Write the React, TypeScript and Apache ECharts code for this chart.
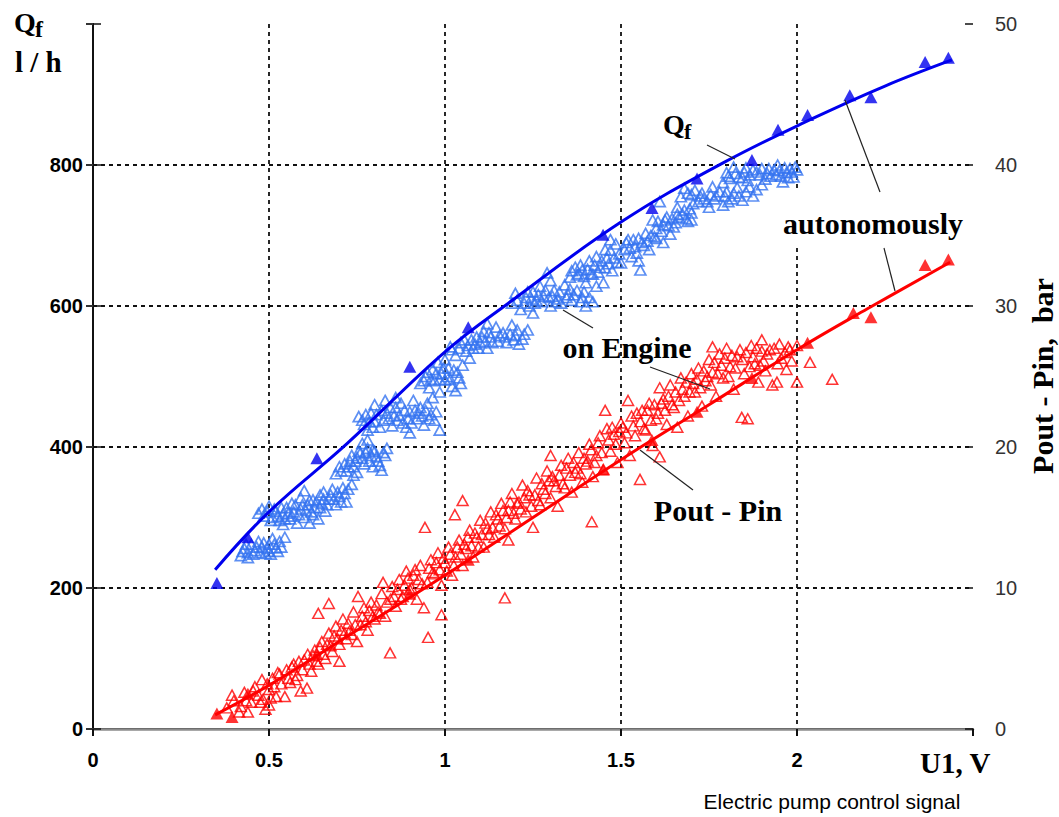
import { useEffect, useRef } from 'react';
import * as echarts from 'echarts';

// ---------- data (x: U1 in V) ----------
// Qf measured on engine (l/h)
const engineQf: [number, number][] = [
  [0.42,246],[0.43,256],[0.44,250],[0.45,262],[0.46,253],[0.47,266],[0.48,258],[0.49,249],[0.50,262],[0.51,270],[0.52,257],[0.53,266],[0.545,272],[0.44,243],[0.50,252],
  [0.425,252],[0.435,262],[0.455,248],[0.465,258],[0.475,250],[0.485,264],[0.495,256],[0.505,248],[0.515,262],[0.525,252],[0.535,258],
  [0.47,306],[0.48,312],[0.50,316],[0.51,300],[0.52,309],[0.53,296],[0.54,305],[0.55,314],[0.56,298],[0.565,320],[0.57,308],[0.58,292],[0.59,312],[0.59,328],[0.60,300],[0.61,318],[0.615,292],[0.62,308],[0.625,325],[0.63,314],[0.64,298],[0.645,332],[0.65,320],[0.655,336],[0.66,309],[0.67,326],[0.68,340],[0.69,318],[0.70,330],[0.71,342],[0.72,322],[0.735,347],[0.60,338],[0.54,290],
  [0.485,302],[0.495,308],[0.505,296],[0.515,312],[0.525,302],[0.535,314],[0.545,298],[0.555,306],[0.565,302],[0.575,318],[0.585,304],[0.595,318],[0.605,310],[0.615,324],[0.625,304],[0.635,322],[0.645,314],[0.655,326],[0.665,318],[0.675,332],[0.685,326],[0.695,336],[0.705,322],[0.715,334],[0.725,340],
  [0.69,362],[0.70,372],[0.72,366],[0.73,380],[0.74,372],[0.75,385],[0.76,392],[0.765,405],[0.77,376],[0.78,398],[0.79,388],[0.795,372],[0.80,394],[0.81,380],[0.82,367],[0.83,388],[0.835,398],[0.75,364],[0.78,410],
  [0.705,366],[0.715,376],[0.725,372],[0.735,388],[0.745,380],[0.755,394],[0.765,384],[0.775,392],[0.785,380],[0.795,396],[0.805,386],[0.815,374],[0.825,392],[0.74,360],
  [0.755,443],[0.77,432],[0.78,424],[0.79,448],[0.80,436],[0.815,428],[0.82,452],[0.83,466],[0.84,440],[0.85,430],[0.86,456],[0.87,445],[0.875,462],[0.88,434],[0.89,428],[0.90,450],[0.91,466],[0.92,440],[0.93,456],[0.94,431],[0.95,462],[0.96,446],[0.965,470],[0.97,438],[0.985,424],[0.80,460],[0.86,470],[0.90,420],
  [0.765,438],[0.775,446],[0.785,436],[0.795,428],[0.805,446],[0.825,438],[0.835,448],[0.845,456],[0.855,444],[0.865,438],[0.885,452],[0.895,440],[0.905,434],[0.915,452],[0.925,448],[0.935,444],[0.945,452],[0.955,440],[0.975,450],
  [0.93,490],[0.945,500],[0.955,484],[0.965,510],[0.97,494],[0.98,520],[0.99,504],[1.0,495],[1.0,524],[1.01,512],[1.02,486],[1.025,509],[1.03,480],[1.04,498],[1.05,516],[0.985,478],
  [0.94,494],[0.95,506],[0.96,496],[0.975,504],[0.985,496],[0.995,512],[1.005,500],[1.015,496],[1.035,506],[1.045,490],
  [1.015,542],[1.03,530],[1.045,548],[1.06,536],[1.08,540],[1.09,556],[1.10,548],[1.11,564],[1.12,540],[1.13,556],[1.145,570],[1.15,550],[1.165,562],[1.175,548],[1.19,573],[1.20,558],[1.21,546],[1.22,553],[1.235,566],[1.07,526],[1.12,575],
  [1.02,538],[1.04,540],[1.055,552],[1.065,544],[1.075,552],[1.085,546],[1.095,540],[1.105,556],[1.115,550],[1.125,562],[1.135,548],[1.155,558],[1.17,556],[1.185,560],[1.195,552],[1.205,566],[1.225,560],
  [1.19,604],[1.20,618],[1.215,595],[1.23,612],[1.24,600],[1.25,620],[1.26,608],[1.27,628],[1.28,614],[1.29,647],[1.30,600],[1.31,622],[1.32,610],[1.33,604],[1.34,630],[1.35,616],[1.36,608],[1.375,622],[1.39,612],[1.40,600],[1.42,606],[1.30,636],[1.25,590],
  [1.205,608],[1.225,604],[1.235,620],[1.245,610],[1.255,604],[1.265,616],[1.275,606],[1.285,622],[1.295,612],[1.305,614],[1.315,606],[1.325,620],[1.345,612],[1.355,624],[1.365,616],[1.385,606],[1.395,620],[1.41,612],
  [1.355,641],[1.37,655],[1.38,646],[1.39,651],[1.40,633],[1.41,664],[1.42,645],[1.43,670],[1.44,655],[1.45,633],[1.46,668],[1.47,679],[1.475,650],[1.485,688],[1.49,662],[1.50,661],[1.47,694],[1.43,628],
  [1.36,650],[1.375,644],[1.385,658],[1.395,642],[1.405,652],[1.415,646],[1.425,658],[1.435,648],[1.445,664],[1.455,654],[1.465,660],[1.48,668],[1.495,674],[1.455,680],
  [1.51,680],[1.52,694],[1.53,670],[1.545,675],[1.555,651],[1.56,690],[1.57,703],[1.58,680],[1.59,722],[1.595,698],[1.60,710],[1.61,748],[1.62,715],[1.63,726],[1.64,702],[1.65,712],[1.66,730],[1.67,755],[1.68,736],[1.69,720],[1.70,722],[1.705,745],[1.55,664],[1.62,690],[1.66,740],
  [1.515,690],[1.525,682],[1.535,694],[1.54,684],[1.55,696],[1.565,686],[1.575,692],[1.585,700],[1.6,696],[1.605,720],[1.615,706],[1.625,722],[1.635,714],[1.645,724],[1.655,718],[1.665,726],[1.675,730],[1.685,724],[1.695,738],[1.7,732],
  [1.68,767],[1.70,758],[1.72,748],[1.73,760],[1.745,748],[1.76,769],[1.77,756],[1.79,743],[1.80,762],[1.815,752],[1.83,768],[1.845,750],[1.865,769],[1.885,765],[1.75,740],[1.79,775],
  [1.69,760],[1.71,764],[1.725,756],[1.735,752],[1.755,758],[1.765,752],[1.78,762],[1.795,756],[1.805,748],[1.82,760],[1.835,756],[1.855,762],[1.875,756],
  [1.80,789],[1.81,781],[1.82,797],[1.835,783],[1.85,790],[1.86,778],[1.875,793],[1.895,786],[1.91,780],[1.92,795],[1.935,793],[1.945,800],[1.955,784],[1.97,789],[1.98,795],[2.0,793],[1.99,783],[1.90,772],[1.96,776],
  [1.805,784],[1.825,788],[1.845,782],[1.855,796],[1.865,786],[1.885,790],[1.9,795],[1.915,788],[1.925,784],[1.94,786],[1.95,792],[1.965,796],[1.975,782],[1.985,790],[1.995,797],
];

// Pout - Pin measured on engine (bar)
const engineDp: [number, number][] = [
  [0.38,1.5],[0.40,2.0],[0.42,1.6],[0.43,2.6],[0.45,1.9],[0.46,3.0],[0.47,2.4],[0.48,3.5],[0.483,2.1],[0.49,1.4],[0.50,2.8],[0.51,3.6],[0.52,2.3],[0.53,3.9],[0.545,2.3],[0.55,4.2],[0.56,3.3],[0.57,4.6],[0.58,3.8],[0.59,2.7],[0.60,4.9],[0.608,2.9],[0.61,5.3],[0.62,4.1],[0.44,1.2],[0.50,1.7],
  [0.63,5.6],[0.64,8.2],[0.64,4.6],[0.65,6.2],[0.66,5.0],[0.67,6.8],[0.68,5.5],[0.69,7.3],[0.70,6.0],[0.71,7.8],[0.72,6.4],[0.73,7.0],[0.74,8.3],[0.75,6.2],[0.753,9.4],[0.76,7.4],[0.77,8.6],[0.78,7.0],[0.79,9.0],[0.80,7.8],[0.81,8.3],[0.82,9.6],[0.824,10.4],[0.83,8.0],[0.844,5.4],[0.845,9.2],[0.85,10.1],[0.70,4.8],[0.67,8.9],
  [0.86,8.7],[0.87,10.6],[0.88,9.4],[0.89,11.2],[0.90,9.9],[0.91,10.9],[0.92,9.2],[0.93,11.6],[0.943,14.3],[0.95,10.4],[0.952,6.5],[0.96,12.0],[0.97,11.0],[0.98,12.5],[0.99,8.1],[0.99,10.2],[1.0,11.8],[1.01,12.9],[1.02,10.9],[1.028,15.2],[1.03,12.2],[1.04,13.4],[1.05,16.2],[1.05,11.6],[1.06,12.8],[1.07,14.1],[1.08,12.2],[1.09,13.6],[1.10,14.8],[0.94,8.6],
  [1.11,12.9],[1.12,14.2],[1.13,15.4],[1.14,13.6],[1.15,14.9],[1.16,16.0],[1.17,9.3],[1.17,14.2],[1.18,15.5],[1.19,16.7],[1.20,14.9],[1.21,16.1],[1.22,17.3],[1.23,15.4],[1.24,16.6],[1.25,14.3],[1.26,17.8],[1.27,15.9],[1.28,17.0],[1.29,18.3],[1.30,16.4],[1.31,17.6],[1.32,15.8],[1.33,18.7],[1.34,17.1],[1.35,19.2],[1.36,16.8],[1.37,18.2],[1.38,19.6],[1.39,17.5],[1.40,18.8],[1.417,14.7],[1.18,13.4],[1.30,19.4],
  [1.41,20.2],[1.42,17.9],[1.43,19.4],[1.44,20.8],[1.45,18.4],[1.46,21.3],[1.47,19.7],[1.48,20.9],[1.49,18.9],[1.50,21.7],[1.51,20.3],[1.52,23.3],[1.525,19.4],[1.53,22.2],[1.54,20.8],[1.554,17.7],[1.56,22.6],[1.57,21.2],[1.58,23.1],[1.59,20.1],[1.60,22.0],[1.61,24.2],[1.61,19.3],[1.62,23.4],[1.63,21.6],[1.64,24.4],[1.65,22.8],[1.66,21.4],[1.67,24.9],[1.68,23.6],[1.69,22.2],[1.70,25.2],[1.455,22.6],
  [1.71,23.9],[1.72,25.6],[1.73,22.9],[1.74,24.7],[1.75,26.2],[1.76,25.3],[1.77,23.6],[1.78,26.6],[1.79,24.9],[1.80,27.0],[1.81,25.7],[1.82,24.1],[1.83,26.4],[1.838,26.9],[1.843,22.1],[1.85,25.2],[1.86,22.0],[1.87,27.2],[1.88,25.9],[1.89,24.6],[1.90,26.8],[1.91,25.4],[1.923,26.9],[1.93,24.4],[1.943,24.6],[1.95,27.3],[1.966,26.7],[1.97,25.5],[1.98,26.9],[2.0,24.6],[2.0,27.2],[2.037,26.0],[2.10,24.8],[1.76,27.1],[1.90,27.6],
  [0.395,2.4],[0.415,1.2],[0.435,2.0],[0.455,2.7],[0.475,1.9],[0.495,3.2],[0.505,2.2],[0.515,3.0],[0.525,4.0],[0.535,3.2],[0.555,3.6],[0.565,4.4],[0.575,3.5],[0.585,4.8],[0.595,4.2],[0.615,4.6],[0.625,5.2],[0.635,4.8],[0.645,5.8],[0.655,5.3],[0.665,6.0],[0.675,5.9],[0.685,6.6],[0.695,6.4],[0.705,7.0],[0.715,6.8],[0.725,7.5],[0.735,6.7],[0.745,7.4],[0.765,8.0],[0.775,7.6],[0.785,8.4],[0.795,8.0],[0.805,8.8],[0.815,8.2],[0.835,9.0],[0.855,9.4],[0.865,9.9],[0.875,9.2],[0.885,10.2],[0.895,10.7],[0.905,10.0],[0.915,11.3],[0.925,10.6],[0.935,10.3],[0.955,11.4],[0.965,11.1],[0.975,11.8],[0.985,11.3],[0.995,12.1],
  [1.005,11.2],[1.015,12.4],[1.025,11.6],[1.035,12.9],[1.045,12.4],[1.055,13.1],[1.065,13.6],[1.075,13.0],[1.085,13.9],[1.095,12.9],[1.105,13.8],[1.115,14.6],[1.125,13.8],[1.135,14.3],[1.145,15.2],[1.155,14.4],[1.165,15.5],[1.175,15.0],[1.185,16.1],[1.195,15.3],[1.205,16.0],[1.215,15.6],[1.225,16.4],[1.235,16.9],[1.245,15.8],[1.255,16.6],[1.265,16.2],[1.275,17.4],[1.285,16.7],[1.295,17.6],[1.305,17.9],[1.315,17.2],[1.325,18.0],[1.335,17.4],[1.345,18.5],[1.355,18.0],[1.365,18.9],[1.375,18.5],[1.385,18.1],[1.395,19.2],[1.405,19.0],[1.415,19.8],[1.425,18.9],[1.435,20.3],[1.445,19.6],[1.465,20.5],[1.475,21.4],[1.485,20.2],[1.495,21.1],
  [1.505,21.4],[1.515,21.0],[1.535,21.5],[1.545,22.4],[1.555,21.8],[1.565,21.3],[1.575,22.6],[1.585,21.9],[1.595,23.0],[1.605,22.4],[1.615,23.1],[1.625,22.6],[1.635,23.6],[1.645,23.0],[1.655,23.9],[1.665,23.3],[1.675,24.1],[1.685,24.6],[1.695,23.9],[1.705,24.5],[1.715,24.8],[1.725,24.2],[1.735,25.4],[1.745,25.0],[1.755,24.4],[1.765,26.0],[1.775,25.2],[1.785,25.8],[1.795,26.3],[1.805,25.0],[1.815,26.5],[1.825,25.6],[1.845,26.2],[1.855,26.7],[1.865,25.7],[1.875,26.4],[1.885,27.0],[1.895,25.8],[1.905,26.1],[1.915,26.6],[1.935,27.0],[1.945,25.9],[1.955,26.3],[1.975,27.1],[1.985,26.1],
];

// measured autonomously (filled triangles)
const autoQf: [number, number][] = [
  [0.352,207],[0.44,272],[0.636,384],[0.90,514],[1.066,570],[1.449,701],[1.588,739],[1.716,781],[1.872,807],[1.946,850],[2.03,871],[2.15,899],[2.21,896],[2.364,946],[2.43,952],
];
const autoDp: [number, number][] = [
  [0.352,1.1],[0.395,0.85],[0.44,2.5],[0.636,5.3],[0.90,9.6],[1.066,12.0],[1.449,18.4],[1.588,20.5],[1.716,22.5],[1.872,24.9],[2.03,27.4],[2.16,29.5],[2.21,29.2],[2.364,32.9],[2.43,33.3],
];

// fitted curves
const fitQf: [number, number][] = [
  [0.347,226],[0.5,308],[0.72,404],[1.0,535],[1.18,604],[1.5,719],[1.79,803],[2.045,866],[2.25,912],[2.44,949],
];
const fitDp: [number, number][] = [
  [0.347,1.0],[0.5,3.1],[0.75,7.0],[1.0,10.9],[1.25,15.0],[1.5,19.1],[1.75,23.0],[2.0,26.9],[2.2,29.8],[2.435,33.1],
];

const X_MIN = 0, X_MAX = 2.5, X_STEP = 0.5;
const QF_MIN = 0, QF_MAX = 1000, QF_STEP = 200;
const DP_MIN = 0, DP_MAX = 50, DP_STEP = 10;

const SANS = '"Liberation Sans", Arial, sans-serif';
const SERIF = '"Liberation Serif", "Times New Roman", serif';

const BLUE = '#0000ee';
const LIGHT_BLUE = '#3473f0';
const RED = '#ff0000';

function txt(text: string, x: number, y: number, font: string, align = 'left', extra: any = {}) {
  return {
    type: 'text', x, y, z: 110, ...extra,
    style: { text, font, fill: '#000', align, textAlign: align, verticalAlign: 'middle', textVerticalAlign: 'middle' },
  };
}
function seg(x1: number, y1: number, x2: number, y2: number) {
  return { type: 'line', z: 105, shape: { x1, y1, x2, y2 }, style: { stroke: '#222', lineWidth: 1.2 } };
}

export default function App() {
  const ref = useRef<HTMLDivElement>(null);
  useEffect(() => {
    if (!ref.current) return;
    const chart = echarts.init(ref.current, null, { renderer: 'svg' });
    const dash = { type: [4, 4], color: '#111', width: 1.8 };
    const option: any = {
      animation: false,
      backgroundColor: '#fff',
      grid: { left: 93, right: 86, top: 24, bottom: 88, containLabel: false },
      xAxis: [
        {
          type: 'value', min: X_MIN, max: X_MAX, interval: X_STEP, position: 'bottom',
          axisLine: { show: true, lineStyle: { color: '#111', width: 2 } },
          axisTick: { show: true, length: 7, lineStyle: { color: '#111', width: 2 } },
          axisLabel: {
            margin: 21, color: '#000', fontFamily: SANS, fontWeight: 'bold', fontSize: 20,
            formatter: (v: number) => (v === X_MAX ? '' : String(v)),
          },
          splitLine: { show: true, showMinLine: false, showMaxLine: false, lineStyle: dash },
        },
        {
          type: 'value', min: X_MIN, max: X_MAX, position: 'top',
          axisLine: { show: true, lineStyle: { color: '#8c8c8c', width: 2.5 } },
          axisTick: { show: false }, axisLabel: { show: false }, splitLine: { show: false },
        },
      ],
      yAxis: [
        {
          type: 'value', min: QF_MIN, max: QF_MAX, interval: QF_STEP, position: 'left',
          axisLine: { show: true, lineStyle: { color: '#333', width: 2 } },
          axisTick: { show: true, length: 7, lineStyle: { color: '#333', width: 2 } },
          axisLabel: {
            margin: 10, color: '#000', fontFamily: SANS, fontWeight: 'bold', fontSize: 20,
            formatter: (v: number) => (v === QF_MAX ? '' : String(v)),
          },
          splitLine: { show: true, showMinLine: false, showMaxLine: false, lineStyle: dash },
        },
        {
          type: 'value', min: DP_MIN, max: DP_MAX, interval: DP_STEP, position: 'right',
          axisLine: { show: true, lineStyle: { color: '#111', width: 2 } },
          axisTick: { show: true, length: 8, lineStyle: { color: '#111', width: 1.5 } },
          axisLabel: { margin: 22, color: '#333', fontFamily: SANS, fontSize: 20 },
          splitLine: { show: false },
        },
        {
          type: 'value', min: DP_MIN, max: DP_MAX, interval: DP_STEP, position: 'right',
          axisLine: { show: false },
          axisTick: { show: true, inside: true, length: 8, lineStyle: { color: '#111', width: 1.5 } },
          axisLabel: { show: false }, splitLine: { show: false },
        },
      ],
      series: [
        {
          name: 'Qf on Engine', type: 'scatter', xAxisIndex: 0, yAxisIndex: 0, data: engineQf,
          symbol: 'triangle', symbolSize: [11, 10], z: 2,
          itemStyle: { color: 'rgba(0,0,0,0)', borderColor: LIGHT_BLUE, borderWidth: 1.7 },
        },
        {
          name: 'Pout - Pin on Engine', type: 'scatter', xAxisIndex: 0, yAxisIndex: 1, data: engineDp,
          symbol: 'triangle', symbolSize: [11, 10], z: 2,
          itemStyle: { color: 'rgba(0,0,0,0)', borderColor: RED, borderWidth: 1.5 },
        },
        {
          name: 'Qf fit', type: 'line', xAxisIndex: 0, yAxisIndex: 0, data: fitQf, smooth: 0.4,
          showSymbol: false, z: 3, lineStyle: { color: BLUE, width: 3 },
        },
        {
          name: 'Pout - Pin fit', type: 'line', xAxisIndex: 0, yAxisIndex: 1, data: fitDp, smooth: 0.4,
          showSymbol: false, z: 3, lineStyle: { color: RED, width: 3 },
        },
        {
          name: 'Qf autonomously', type: 'scatter', xAxisIndex: 0, yAxisIndex: 0, data: autoQf,
          symbol: 'triangle', symbolSize: [13, 12], z: 4, itemStyle: { color: BLUE },
        },
        {
          name: 'Pout - Pin autonomously', type: 'scatter', xAxisIndex: 0, yAxisIndex: 1, data: autoDp,
          symbol: 'triangle', symbolSize: [13, 12], z: 4, itemStyle: { color: RED },
        },
      ],
      graphic: [
        // left axis title
        txt('Q', 14, 22, `bold 28px ${SERIF}`),
        txt('f', 35, 29, `bold 24px ${SERIF}`),
        txt('l / h', 15, 62, `bold 29px ${SERIF}`),
        // x axis end title
        txt('U1, V', 920, 763, `bold 29px ${SERIF}`),
        // right axis title
        txt('Pout - Pin,  bar', 1042, 376, `bold 30px ${SERIF}`, 'center', { rotation: Math.PI / 2 }),
        // caption
        txt('Electric pump control signal', 832, 801, `21px ${SANS}`, 'center'),
        // annotation box
        { type: 'rect', z: 100, shape: { x: 770, y: 192, width: 215, height: 56 }, style: { fill: '#fff' } },
        txt('autonomously', 873, 223, `bold 30px ${SERIF}`, 'center'),
        seg(845, 100, 880, 192),
        seg(884, 248, 895, 291),
        // Qf label
        txt('Q', 663, 124, `bold 28px ${SERIF}`),
        txt('f', 684, 131, `bold 22px ${SERIF}`),
        seg(707, 145, 735, 159),
        // on Engine
        txt('on Engine', 627, 347, `bold 30px ${SERIF}`, 'center'),
        seg(563, 310, 593, 328),
        seg(650, 367, 710, 389),
        // Pout - Pin
        txt('Pout - Pin', 718, 510, `bold 30px ${SERIF}`, 'center'),
        seg(640, 450, 693, 490),
      ],
    };
    chart.setOption(option);
    return () => chart.dispose();
  }, []);
  return <div ref={ref} style={{ position: 'absolute', left: 0, top: 0, width: 1059, height: 817 }} />;
}
